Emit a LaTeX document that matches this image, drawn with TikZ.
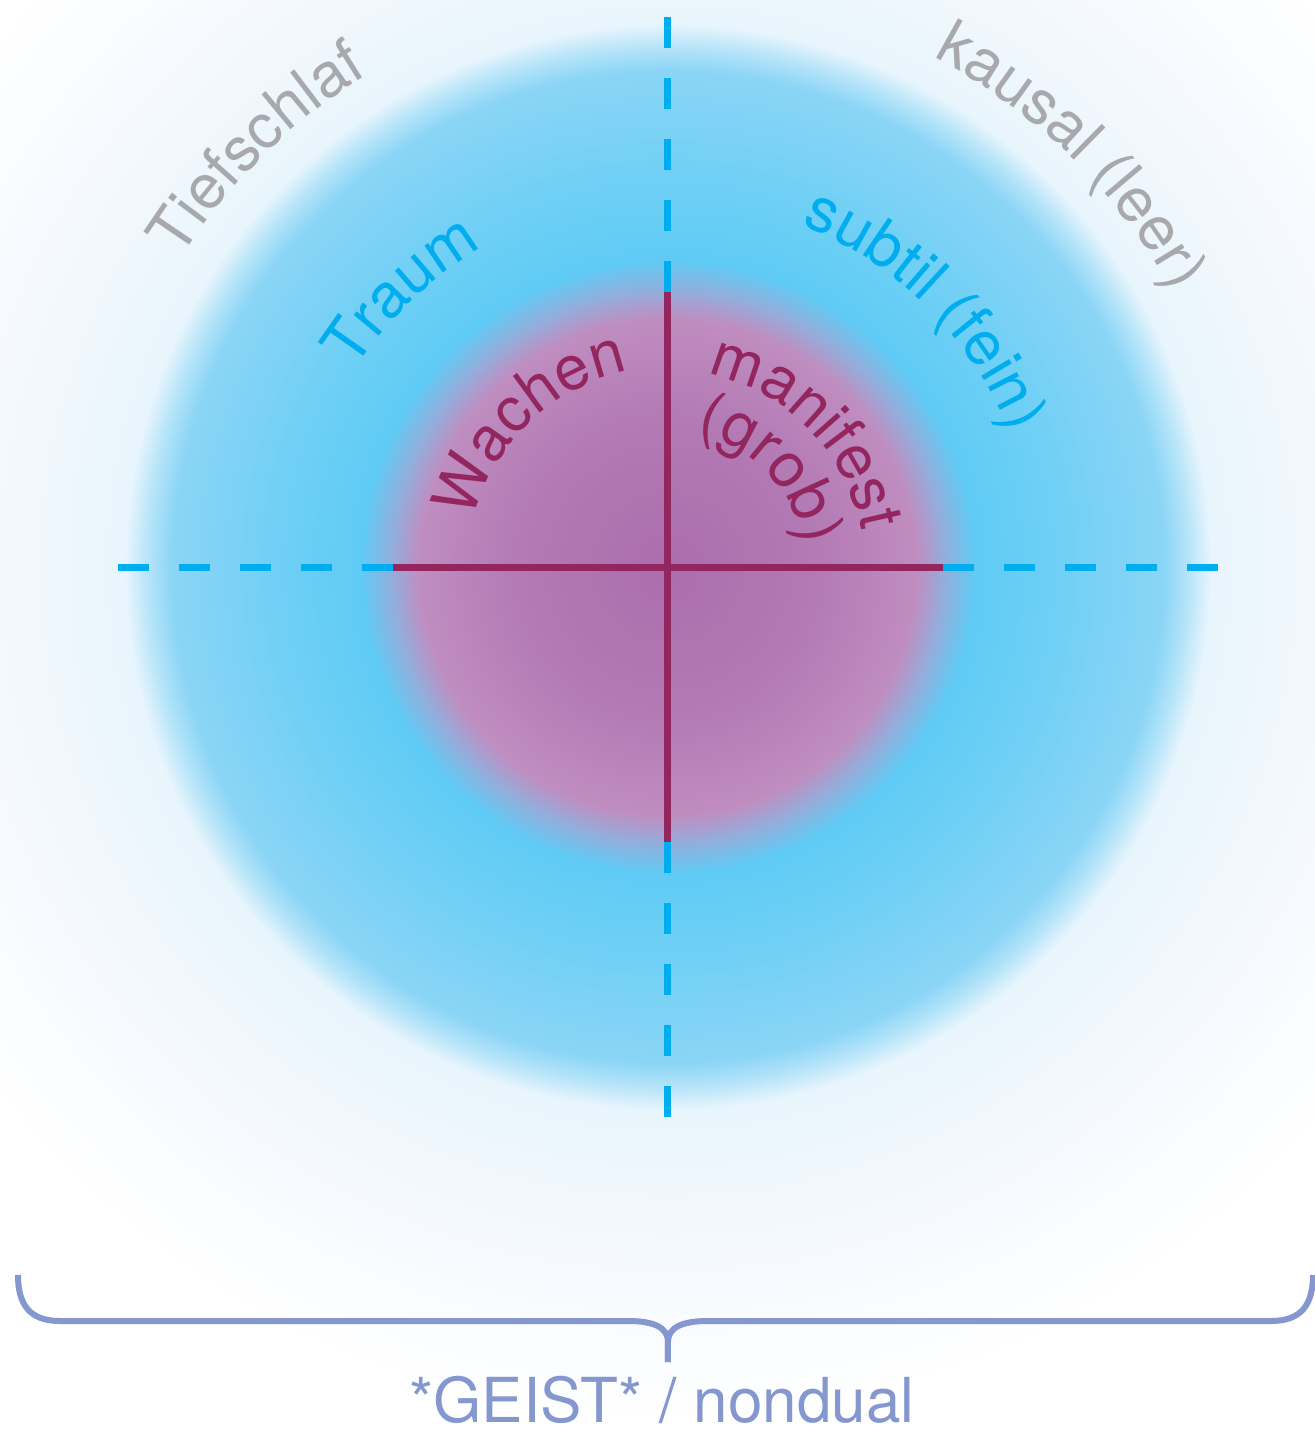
\documentclass[tikz,border=0pt]{standalone}
\usepackage{fontspec}
\setmainfont{TeX Gyre Heros}
\usetikzlibrary{decorations.text}

\definecolor{wachcol}{HTML}{93265F}
\definecolor{traumcol}{HTML}{00AEEF}
\definecolor{tiefcol}{HTML}{A7A9AC}
\definecolor{geistcol}{HTML}{8497CF}
\definecolor{glowA}{HTML}{AC6DAD}
\definecolor{glowB}{HTML}{B37AB4}
\definecolor{glowC}{HTML}{C08DC0}
\definecolor{glowD}{HTML}{92AEDC}
\definecolor{glowE}{HTML}{5FCBF5}
\definecolor{glowF}{HTML}{72D0F5}
\definecolor{glowG}{HTML}{8BD5F6}
\definecolor{glowH}{HTML}{B5E4F9}
\definecolor{glowI}{HTML}{E8F5FC}
\definecolor{glowJ}{HTML}{EFF7FD}
\definecolor{glowK}{HTML}{F7FAFE}

\pgfdeclareradialshading{glow}{\pgfpointorigin}{color(0bp)=(glowA); color(4.17bp)=(glowB); color(6.89bp)=(glowC); color(7.69bp)=(glowD); color(8.53bp)=(glowE); color(11.11bp)=(glowF); color(13.78bp)=(glowG); color(14.44bp)=(glowH); color(15.08bp)=(glowI); color(17.22bp)=(glowJ); color(20bp)=(glowK); color(23.89bp)=(white); color(25bp)=(white)}

\newcommand\ringfont{\fontsize{31}{37}\selectfont}

\tikzset{
  ringlabel/.style={decorate, decoration={text along path, text align=center, text color=#1}},
  axisdash/.style={draw=traumcol, line width=3.5pt, dash pattern=on 15.5pt off 15pt},
  axissolid/.style={draw=wachcol, line width=3.5pt},
  bracestyle/.style={draw=geistcol, line width=3pt}
}

\begin{document}
\begin{tikzpicture}[x=0.5pt,y=0.5pt]
\useasboundingbox (-668,-863) rectangle (647,567);
\clip (-668,-863) rectangle (647,567);
\fill[white] (-668,-863) rectangle (647,567);

\coordinate (c) at (0,0);
\shade[shading=glow] (c) circle (900);

\foreach \a in {0,90,180,270}{
  \coordinate (in\a) at (\a:275);
  \coordinate (out\a) at (\a:551);
  \draw[axisdash] (in\a) -- (out\a);
}
\draw[axissolid] (in180) -- (in0);
\draw[axissolid] (in90) -- (in270);

\path[ringlabel=wachcol, decoration={text={|\ringfont|Wachen}}] (174:200) arc[start angle=174, end angle=94, radius=200];
\path[ringlabel=wachcol, decoration={text={|\ringfont|manifest}}] (89.5:197) arc[start angle=89.5, end angle=-0.5, radius=197];
\path[ringlabel=wachcol, decoration={text={|\ringfont|(grob)}}] (93.5:137) arc[start angle=93.5, end angle=-6.5, radius=137];
\path[ringlabel=traumcol, decoration={text={|\ringfont|Traum}}] (164:370) arc[start angle=164, end angle=104, radius=370];
\path[ringlabel=traumcol, decoration={text={|\ringfont|subtil (fein)}}] (85:367) arc[start angle=85, end angle=5, radius=367];
\path[ringlabel=tiefcol, decoration={text={|\ringfont|Tiefschlaf}}] (159.5:577) arc[start angle=159.5, end angle=109.5, radius=577];
\path[ringlabel=tiefcol, decoration={text={|\ringfont|kausal (leer)}}] (75.5:575) arc[start angle=75.5, end angle=15.5, radius=575];

\coordinate (braceL) at (-650,-708);
\coordinate (braceR) at (645,-708);
\coordinate (braceTip) at (0,-795);
\draw[bracestyle] (braceL) .. controls +(0,-30) and +(-30,0) .. (-608,-754) -- (-40,-754) .. controls +(27,0) and +(0,14) .. (0,-775) -- (braceTip);
\draw[bracestyle] (braceR) .. controls +(0,-30) and +(30,0) .. (603,-754) -- (40,-754) .. controls +(-27,0) and +(0,14) .. (0,-775) -- (braceTip);

\node[text=geistcol, font=\ringfont, anchor=base, inner sep=0pt] (geist) at (-6,-855) {*GEIST* / nondual};
\end{tikzpicture}
\end{document}
